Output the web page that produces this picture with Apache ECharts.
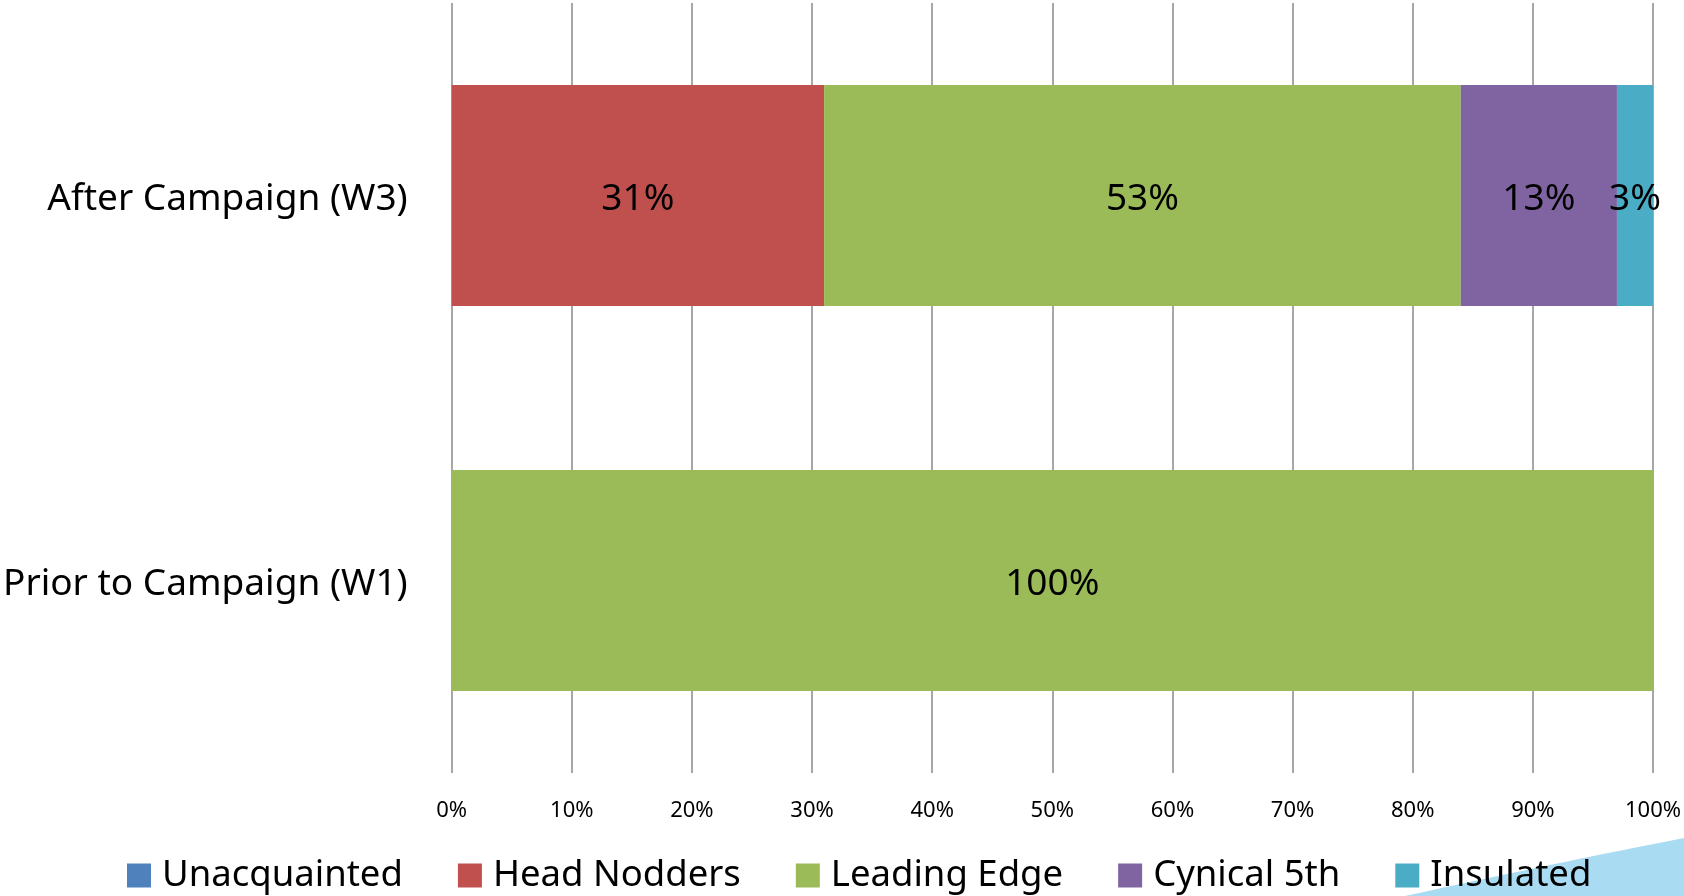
<!DOCTYPE html>
<html>
<head>
<meta charset="utf-8">
<script src="https://cdn.jsdelivr.net/npm/echarts@6/dist/echarts.min.js"></script>
<style>
  html, body { margin: 0; padding: 0; background: #fff; }
  #main { width: 1684px; height: 896px; }
</style>
</head>
<body>
<div id="main"></div>
<script>
// categories, bottom to top
var categories = ['Prior to Campaign (W1)', 'After Campaign (W3)'];
var seriesNames = ['Unacquainted', 'Head Nodders', 'Leading Edge', 'Cynical 5th', 'Insulated'];
var unacquainted = [0, 0];
var headNodders = [0, 31];
var leadingEdge = [100, 53];
var cynical5th = [0, 13];
var insulated = [0, 3];
var colors = ['#4f81bd', '#c0504d', '#9bbb59', '#8064a2', '#4bacc6'];

var FONT = 'Noto Sans';

var myChart = echarts.init(document.getElementById('main'));

function makeSeries(name, data, color) {
    return {
        name: name,
        type: 'bar',
        stack: 'total',
        barCategoryGap: '42.6%',
        data: data,
        itemStyle: { color: color },
        label: {
            show: true,
            position: 'inside',
            offset: [0, 4],
            color: '#000',
            fontFamily: FONT,
            fontSize: 37,
            formatter: function (p) {
                return p.value ? p.value + '%' : '';
            }
        }
    };
}

var allData = [unacquainted, headNodders, leadingEdge, cynical5th, insulated];
var series = [];
for (var i = 0; i < seriesNames.length; i++) {
    series.push(makeSeries(seriesNames[i], allData[i], colors[i]));
}

// decorative swoosh in the bottom-right corner (quadratic curve outline)
var swoosh = [];
for (var k = 0; k <= 20; k++) {
    var t = k / 20;
    swoosh.push([
        (1 - t) * (1 - t) * 1405 + 2 * (1 - t) * t * 1560 + t * t * 1684,
        (1 - t) * (1 - t) * 896 + 2 * (1 - t) * t * 862 + t * t * 838
    ]);
}
swoosh.push([1684, 896]);

var options = {
    animation: false,
    backgroundColor: '#fff',
    grid: {
        left: 451,
        right: 30,
        top: 3,
        bottom: 123
    },
    legend: {
        data: seriesNames,
        left: 122,
        top: 852,
        icon: 'rect',
        itemWidth: 24,
        itemHeight: 24,
        itemGap: 55,
        textStyle: {
            color: '#000',
            fontFamily: FONT,
            fontSize: 36.5,
            padding: [0, 0, 0, 6]
        }
    },
    xAxis: {
        type: 'value',
        min: 0,
        max: 100,
        interval: 10,
        axisLine: { show: false },
        axisTick: { show: false },
        splitLine: {
            show: true,
            lineStyle: { color: '#8a8a8a', width: 1.5 }
        },
        axisLabel: {
            color: '#000',
            fontFamily: FONT,
            fontSize: 22,
            margin: 27,
            formatter: '{value}%'
        }
    },
    yAxis: {
        type: 'category',
        data: categories,
        axisLine: { show: false },
        axisTick: { show: false },
        axisLabel: {
            margin: 44,
            formatter: function (v) {
                return '{c|' + v + '}';
            },
            rich: {
                c: {
                    color: '#000',
                    fontFamily: FONT,
                    fontSize: 37,
                    padding: [8, 0, 0, 0]
                }
            }
        }
    },
    graphic: [
        {
            type: 'polygon',
            z: -10,
            silent: true,
            shape: { points: swoosh },
            style: { fill: '#a9dbf2' }
        }
    ],
    series: series
};

myChart.setOption(options);
</script>
</body>
</html>
